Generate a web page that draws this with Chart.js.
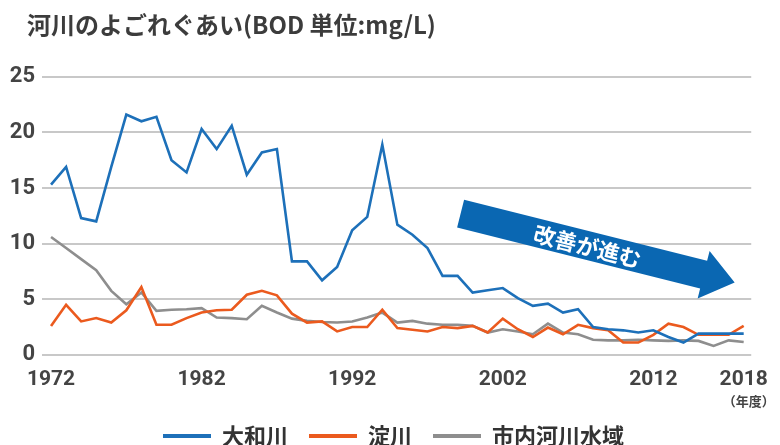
<!DOCTYPE html>
<html><head><meta charset="utf-8">
<script src="https://cdn.jsdelivr.net/npm/chart.js@4"></script>
<style>html,body{margin:0;padding:0;background:#fff}#wrap{width:780px;height:445px}</style>
</head><body><div id="wrap"><canvas id="c" width="780" height="445"></canvas></div>
<script>
const years = [1972,1973,1974,1975,1976,1977,1978,1979,1980,1981,
  1982,1983,1984,1985,1986,1987,1988,1989,1990,1991,
  1992,1993,1994,1995,1996,1997,1998,1999,2000,2001,
  2002,2003,2004,2005,2006,2007,2008,2009,2010,2011,
  2012,2013,2014,2015,2016,2017,2018];
const yamato = [15.3,16.9,12.3,12.0,16.9,21.6,21.0,21.4,17.5,16.4,
  20.3,18.5,20.6,16.2,18.2,18.5,8.4,8.4,6.7,7.9,
  11.2,12.4,18.9,11.7,10.8,9.6,7.1,7.1,5.6,5.8,
  6.0,5.1,4.4,4.6,3.8,4.1,2.5,2.3,2.2,2.0,
  2.2,1.6,1.1,1.9,1.9,1.9,1.9];
const yodo = [2.6,4.5,3.0,3.3,2.9,4.0,6.1,2.7,2.7,3.3,
  3.8,4.0,4.05,5.4,5.75,5.35,3.7,2.9,3.0,2.1,
  2.5,2.5,4.05,2.4,2.25,2.1,2.5,2.4,2.6,2.0,
  3.25,2.3,1.6,2.45,1.85,2.7,2.4,2.2,1.1,1.1,
  1.8,2.8,2.5,1.8,1.8,1.8,2.6];
const shinai = [10.6,9.6,8.6,7.6,5.75,4.55,5.6,3.95,4.05,4.1,
  4.2,3.35,3.3,3.2,4.4,3.8,3.25,3.05,2.95,2.9,
  3.0,3.35,3.8,2.9,3.05,2.8,2.7,2.7,2.6,2.0,
  2.3,2.1,1.85,2.8,2.0,1.85,1.35,1.3,1.3,1.35,
  1.3,1.25,1.3,1.25,0.8,1.3,1.15];
const seriesNames = ['大和川','淀川','市内河川水域'];
const seriesColors = ['#1d70b9','#eb5a1e','#8e8e8e'];
const xTickYears = [1972,1982,1992,2002,2012,2018];
const yTickValues = [0,5,10,15,20,25];
const titleText = '河川のよごれぐあい(BOD 単位:mg/L)';
const unitText = '（年度）';
const arrowText = '改善が進む';
const arrowFrom = [1999.2, 12.7];
const arrowTo = [2017.4, 6.5];

const toPts = arr => arr.map((v,i) => ({x: years[i], y: v}));

const arrowPlugin = {
  id: 'arrowNote',
  afterDatasetsDraw(chart) {
    const {ctx, scales:{x, y}} = chart;
    const x0 = x.getPixelForValue(arrowFrom[0]), y0 = y.getPixelForValue(arrowFrom[1]);
    const x1 = x.getPixelForValue(arrowTo[0]), y1 = y.getPixelForValue(arrowTo[1]);
    const ang = Math.atan2(y1 - y0, x1 - x0);
    const len = Math.hypot(x1 - x0, y1 - y0);
    const bw = 14.3, hw = 24.5, hl = 32;
    ctx.save();
    ctx.translate(x0, y0); ctx.rotate(ang);
    ctx.beginPath();
    ctx.moveTo(0, -bw); ctx.lineTo(len - hl, -bw); ctx.lineTo(len - hl, -hw);
    ctx.lineTo(len, 0); ctx.lineTo(len - hl, hw); ctx.lineTo(len - hl, bw);
    ctx.lineTo(0, bw); ctx.closePath();
    ctx.fillStyle = '#0a67b2'; ctx.fill();
    ctx.font = 'bold 22px "Noto Sans CJK JP"';
    ctx.fillStyle = '#ffffff'; ctx.textAlign = 'center'; ctx.textBaseline = 'middle';
    ctx.fillText(arrowText, 131, 1);
    ctx.restore();
  }
};
const unitPlugin = {
  id: 'unitNote',
  afterDraw(chart) {
    const {ctx, scales:{x}} = chart;
    ctx.save();
    ctx.font = 'bold 13px "Noto Sans CJK JP"';
    ctx.fillStyle = '#444'; ctx.textAlign = 'center'; ctx.textBaseline = 'middle';
    ctx.fillText(unitText, x.getPixelForValue(xTickYears[xTickYears.length - 1]) + 5, x.top + 46);
    ctx.restore();
  }
};
const shiftPlugin = {
  id: 'shiftBoxes',
  afterLayout(chart) {
    chart.titleBlock.left += 27;
    chart.legend.left += 27;
  }
};

new Chart(document.getElementById('c'), {
  type: 'line',
  data: {
    datasets: [yamato, yodo, shinai].map((d, i) => ({
      label: seriesNames[i], data: toPts(d),
      borderColor: seriesColors[i], backgroundColor: seriesColors[i],
      borderWidth: 2.6, pointRadius: 0, tension: 0, fill: false
    }))
  },
  options: {
    responsive: false, animation: false, devicePixelRatio: 1,
    layout: {padding: {left: 0, right: 20, top: 0, bottom: -12}},
    plugins: {
      title: {display: true, text: titleText, align: 'start', color: '#3c3c3c',
        font: {family: '"Noto Sans CJK JP"', size: 24, weight: 'bold'},
        padding: {top: 10, bottom: 38}},
      legend: {position: 'bottom',
        labels: {
          color: '#333', boxWidth: 48, boxHeight: 4, padding: 21,
          font: {family: '"Noto Sans CJK JP"', size: 22, weight: 'bold'},
          generateLabels(chart) {
            return Chart.defaults.plugins.legend.labels.generateLabels(chart).map(l => ({
              ...l, fillStyle: l.strokeStyle, lineWidth: 0
            }));
          }
        }},
      tooltip: {enabled: false}
    },
    scales: {
      x: {type: 'linear', min: 1971.4, max: 2018.5,
        grid: {display: false, drawTicks: false}, border: {display: false},
        afterBuildTicks: s => { s.ticks = xTickYears.map(v => ({value: v})); },
        ticks: {autoSkip: false, maxRotation: 0, padding: 12, color: '#444',
          font: {family: 'Roboto', size: 21, weight: 'bold'},
          callback: v => String(v)}
      },
      y: {min: 0, max: 25,
        afterBuildTicks: s => { s.ticks = yTickValues.map(v => ({value: v})); },
        afterFit: s => { s.width = 42; },
        grid: {color: '#c8c8c8', lineWidth: 2, drawTicks: false}, border: {display: false},
        ticks: {padding: 7, color: '#444',
          font: {family: 'Roboto', size: 22, weight: 'bold'}}
      }
    }
  },
  plugins: [shiftPlugin, arrowPlugin, unitPlugin]
});
</script></body></html>
